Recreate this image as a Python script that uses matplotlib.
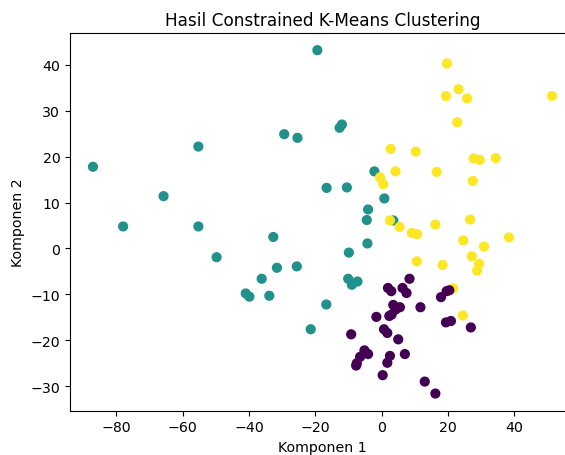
import numpy as np
import matplotlib
matplotlib.use('Agg')
import matplotlib.pyplot as plt

# cluster 1 (teal)
teal_x = [-87.1, -55.3, -29.4, -25.4, -65.8, -78.0, -55.3, -49.8, -32.7, -31.6, -36.2,
          -25.6, -41.0, -39.9, -33.9, -21.4, -19.4, -12.7, -12.0, -2.2, -16.6, -10.5,
          0.8, -4.1, -4.5, 3.5, -9.9, -4.3, -10.1, -9.0, -7.3, -16.7]
teal_y = [17.8, 22.2, 24.9, 24.1, 11.4, 4.8, 4.8, -1.9, 2.5, -4.2, -6.6,
          -3.9, -9.8, -10.5, -10.3, -17.6, 43.2, 26.3, 27.0, 16.8, 13.2, 13.3,
          10.9, 8.5, 6.2, 6.1, -0.9, 1.1, -6.6, -7.9, -7.2, -12.2]

# cluster 2 (yellow)
yellow_x = [19.7, 23.2, 19.4, 25.8, 51.4, 22.8, 2.7, 10.3, 27.8, 29.6, 34.4,
            -0.5, 0.5, 4.2, 16.6, 27.5, 2.5, 5.4, 16.2, 26.7, 9.1, 10.7,
            38.4, 24.6, 30.9, 27.2, 29.4, 28.8, 10.6, 18.4, 21.6, 24.5]
yellow_y = [40.3, 34.7, 33.2, 32.7, 33.2, 27.5, 21.7, 21.1, 19.6, 19.3, 19.7,
            15.5, 14.0, 16.8, 16.7, 14.7, 6.1, 4.7, 5.2, 6.3, 3.4, 3.1,
            2.4, 1.75, 0.4, -1.7, -3.3, -4.8, -2.8, -3.6, -8.7, -14.6]

# cluster 0 (purple)
purple_x = [8.4, 1.9, 2.9, 6.3, 7.5, 19.6, 20.4, 17.9, 3.5, 5.5, 4.2,
            3.0, 2.3, 11.7, -1.6, 19.4, 20.9, 26.9, 0.7, 1.7, 5.0, -9.2,
            -5.2, -4.1, -6.5, -7.5, -7.7, 2.5, 1.7, 7.0, 0.3, 13.0, 16.2]
purple_y = [-6.6, -8.6, -9.3, -8.6, -9.7, -9.3, -9.1, -10.6, -12.3, -12.8, -13.3,
            -14.4, -14.7, -12.8, -14.9, -16.1, -15.8, -17.2, -17.6, -18.4, -19.8, -18.7,
            -22.2, -23.0, -23.6, -25.0, -25.5, -23.4, -24.9, -23.0, -27.6, -29.0, -31.6]

x = np.array(teal_x + yellow_x + purple_x)
y = np.array(teal_y + yellow_y + purple_y)
labels = np.array([1] * len(teal_x) + [2] * len(yellow_x) + [0] * len(purple_x))

fig = plt.figure(figsize=(5.65, 4.56), dpi=100)
ax = fig.add_axes([70 / 565, 44.3 / 456, 505 / 565, 377.7 / 456])
ax.scatter(x, y, c=labels, cmap='viridis', s=40)
ax.set_title('Hasil Constrained K-Means Clustering', fontsize=12.2)
ax.set_xlabel('Komponen 1', fontsize=10.2)
ax.set_ylabel('Komponen 2', fontsize=10.2)
ax.tick_params(labelsize=10.2)
plt.savefig('out.png', dpi=100)
